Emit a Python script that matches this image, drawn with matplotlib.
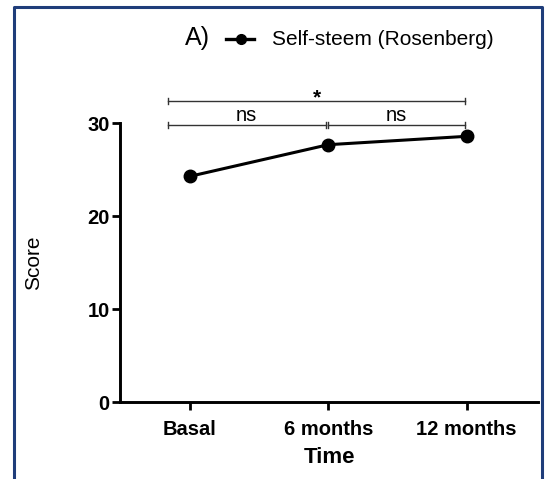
import matplotlib
matplotlib.use("Agg")
import matplotlib.pyplot as plt
from matplotlib.lines import Line2D

plt.rcParams['font.family'] = ['Liberation Sans', 'DejaVu Sans']

categories = ["Basal", "6 months", "12 months"]
scores = [24.3, 27.7, 28.6]
yticks = [0, 10, 20, 30]
series_label = "Self-steem (Rosenberg)"
panel_label = "A)"
# significance brackets: (x_start, x_end, y, label)
brackets_ns = [(-0.16, 0.98, 29.8, "ns"), (1.0, 1.99, 29.8, "ns")]
bracket_star = (-0.16, 1.99, 32.4, "*")

W, H = 545, 479
fig = plt.figure(figsize=(W/100, H/100), dpi=100)
ax = fig.add_axes([120/W, 1-402.3/H, (538-120)/W, (402.3-123.3)/H])

x = list(range(len(categories)))
ax.plot(x, scores, color='black', lw=2.2, marker='o', ms=9, zorder=5, clip_on=False)

ax.set_xlim(-0.506, 2.516)
ax.set_ylim(0, 30)
ax.set_yticks(yticks)
ax.set_xticks(x)
ax.set_xticklabels(categories)
for s in ['top', 'right']:
    ax.spines[s].set_visible(False)
for s in ['left', 'bottom']:
    ax.spines[s].set_linewidth(2.1)
ax.tick_params(axis='both', width=2.0, length=5.5, labelsize=14.5, pad=2)
for lab in ax.get_xticklabels() + ax.get_yticklabels():
    lab.set_fontweight('bold')
ax.tick_params(axis='x', pad=7)
ax.set_xlabel("Time", fontsize=16, fontweight='bold', labelpad=6)
ax.set_ylabel("Score", fontsize=15, labelpad=32)

def bracket(x0, x1, y, label, fs, dy, weight='normal'):
    ax.plot([x0, x1], [y, y], color='#333333', lw=1.0, clip_on=False)
    for xx in (x0, x1):
        ax.plot([xx, xx], [y-0.35, y+0.35], color='#333333', lw=1.0, clip_on=False)
    ax.text((x0+x1)/2, y+dy, label, ha='center', va='baseline', fontsize=fs,
            fontweight=weight, clip_on=False)

for b in brackets_ns:
    bracket(*b, fs=14.5, dy=0.4)
bracket(*bracket_star, fs=15, dy=-0.3, weight='bold')

# legend-like header
fig.text(185/W, 1-44.5/H, panel_label, fontsize=18, ha='left', va='baseline')
fig.add_artist(Line2D([226/W, 254/W], [1-39/H, 1-39/H], color='black', lw=2.4,
                      transform=fig.transFigure))
fig.add_artist(Line2D([241/W], [1-39/H], color='black', marker='o', ms=7,
                      transform=fig.transFigure))
fig.text(272/W, 1-45/H, series_label, fontsize=15, ha='left', va='baseline')

# frame
fc = '#1f3d7a'
fig.add_artist(Line2D([14/W, 14/W, 542/W, 542/W], [-0.05, 1-7.3/H, 1-7.3/H, -0.05],
                      color=fc, lw=2.2, transform=fig.transFigure))

fig.savefig("out.png", dpi=100)
